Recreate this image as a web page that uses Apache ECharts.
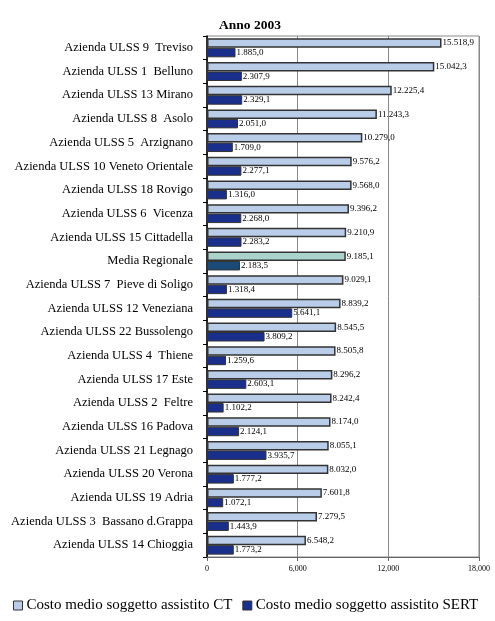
<!DOCTYPE html>
<html><head><meta charset="utf-8">
<script src="https://cdn.jsdelivr.net/npm/echarts@6/dist/echarts.min.js"></script>
<style>html,body{margin:0;padding:0;background:#fff}#c{width:495px;height:621px}</style>
</head><body><div id="c"></div>
<script>
var categories = ["Azienda ULSS 9  Treviso","Azienda ULSS 1  Belluno","Azienda ULSS 13 Mirano","Azienda ULSS 8  Asolo","Azienda ULSS 5  Arzignano","Azienda ULSS 10 Veneto Orientale","Azienda ULSS 18 Rovigo","Azienda ULSS 6  Vicenza","Azienda ULSS 15 Cittadella","Media Regionale","Azienda ULSS 7  Pieve di Soligo","Azienda ULSS 12 Veneziana","Azienda ULSS 22 Bussolengo","Azienda ULSS 4  Thiene","Azienda ULSS 17 Este","Azienda ULSS 2  Feltre","Azienda ULSS 16 Padova","Azienda ULSS 21 Legnago","Azienda ULSS 20 Verona","Azienda ULSS 19 Adria","Azienda ULSS 3  Bassano d.Grappa","Azienda ULSS 14 Chioggia"];
var ctValues = [15518.9,15042.3,12225.4,11243.3,10279.0,9576.2,9568.0,9396.2,9210.9,9185.1,9029.1,8839.2,8545.5,8505.8,8296.2,8242.4,8174.0,8055.1,8032.0,7601.8,7279.5,6548.2];
var sertValues = [1885.0,2307.9,2329.1,2051.0,1709.0,2277.1,1316.0,2268.0,2283.2,2183.5,1318.4,5641.1,3809.2,1259.6,2603.1,1102.2,2124.1,3935.7,1777.2,1072.1,1443.9,1773.2];
var xTicks = [0, 6000, 12000, 18000];
var seriesNames = ["Costo medio soggetto assistito CT","Costo medio soggetto assistito SERT"];
var highlightCategory = "Media Regionale";

function fmt(v){
  var s = v.toFixed(1).split('.');
  var i = s[0].replace(/\B(?=(\d{3})+(?!\d))/g,'.');
  return i + ',' + s[1];
}
var F = "'Liberation Serif', 'DejaVu Serif', serif";
var ctColor = '#B9CDE9', sertColor = '#1A2F8C';
function mk(vals, color, hiColor){
  return vals.map(function(v,i){
    var d = {value:v};
    if (categories[i] === highlightCategory) d.itemStyle = {color: hiColor};
    return d;
  });
}
var chart = echarts.init(document.getElementById('c'));
chart.setOption({
  animation:false,
  title:{text:'Anno 2003', left:245, top:14, textAlign:'center',
    textStyle:{fontFamily:F, fontSize:13.5, fontWeight:'bold', color:'#000'}},
  grid:{left:207, right:16, top:36, bottom:64, show:true, borderColor:'#888', borderWidth:1},
  legend:{top:598, left:13, width:482, padding:0, icon:'rect', itemWidth:9, itemHeight:9, itemGap:10,
    textStyle:{fontFamily:F, fontSize:15, color:'#000', padding:[0,0,0,-1]},
    data:[{name:seriesNames[0], itemStyle:{color:ctColor, borderColor:'#333', borderWidth:1}},
          {name:seriesNames[1], itemStyle:{color:sertColor, borderColor:'#333', borderWidth:1}}]},
  xAxis:{type:'value', min:xTicks[0], max:xTicks[xTicks.length-1], interval:xTicks[1]-xTicks[0],
    axisLine:{show:true, lineStyle:{color:'#666'}},
    axisTick:{show:true, length:4, lineStyle:{color:'#666'}},
    axisLabel:{fontFamily:F, fontSize:8, color:'#000', margin:8},
    splitLine:{show:true, lineStyle:{color:'#888', width:1}}},
  yAxis:{type:'category', data:categories, inverse:true,
    axisLine:{show:true, lineStyle:{color:'#000', width:1.5}},
    axisTick:{show:true, length:4, lineStyle:{color:'#000'}},
    axisLabel:{fontFamily:F, fontSize:12.5, color:'#000', margin:14}},
  series:[
    {name:seriesNames[0], type:'bar', data:mk(ctValues, ctColor, '#A9D3CB'), barGap:'0%', barCategoryGap:'20%',
     itemStyle:{color:ctColor, borderColor:'#333', borderWidth:1.5},
     label:{show:true, position:'right', distance:1, fontFamily:F, fontSize:9, color:'#000',
       formatter:function(p){return fmt(p.value);}}},
    {name:seriesNames[1], type:'bar', data:mk(sertValues, sertColor, '#1C4A78'), barGap:'0%', barCategoryGap:'20%',
     itemStyle:{color:sertColor, borderColor:'#333', borderWidth:1},
     label:{show:true, position:'right', distance:1, fontFamily:F, fontSize:9, color:'#000',
       formatter:function(p){return fmt(p.value);}}}
  ]
});
</script></body></html>
